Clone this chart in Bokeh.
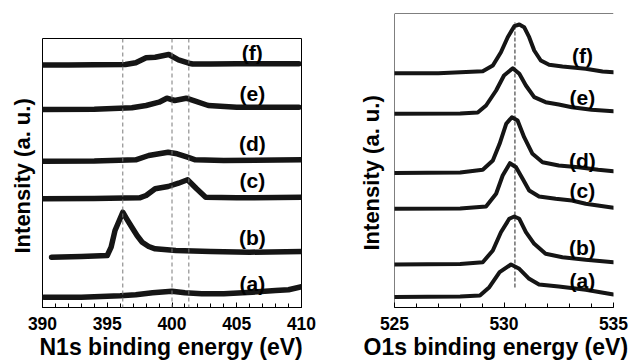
from bokeh.plotting import figure
from bokeh.layouts import row
from bokeh.models import FixedTicker, Span, Title, Range1d
from bokeh.core.properties import value
from bokeh.embed import file_html
from bokeh.resources import INLINE

FONT = "Liberation Sans"

# ---------------- N1s panel data (binding energy eV, intensity a.u.) ----------------
n1s_ticks = [390, 395, 400, 405, 410]
n1s_minor = list(range(390, 411))
n1s_refs = [396.2, 400.0, 401.3]

n1s_a_e = [390.1, 393, 396, 397.2, 398.5, 400, 401, 402.3, 404, 406.2, 408, 409, 410.1]
n1s_a_i = [10.3, 10.3, 11.7, 12.7, 14.7, 16.3, 14.7, 13.7, 13.7, 15.3, 17, 17.7, 21]

n1s_b_e = [390.7, 393, 395.0, 395.3, 395.6, 396.2, 396.5, 396.9, 397.3, 397.7, 398.2, 398.7, 400.3, 403, 406, 410.2]
n1s_b_i = [50.3, 51, 52, 60.3, 77, 95.3, 88.7, 80.3, 72, 65.3, 61, 58.7, 57, 56, 55.3, 56]

n1s_c_e = [389.9, 394, 397.5, 398.0, 398.7, 399.7, 400.5, 401.2, 401.9, 402.6, 405, 410.2]
n1s_c_i = [108.7, 109, 109.7, 112, 118.7, 121, 124.3, 127.7, 118.7, 110.3, 109.7, 110.3]

n1s_d_e = [390.0, 394, 397.2, 398.2, 399.0, 399.7, 400.4, 401.2, 401.8, 404, 410.2]
n1s_d_i = [146.3, 146.5, 147.7, 152, 153.7, 155.3, 153.7, 150.3, 147.7, 147, 147.7]

n1s_e_e = [389.9, 394, 396.9, 398, 399, 399.6, 400.2, 401.1, 401.8, 402.8, 405, 409.8]
n1s_e_i = [198, 198.3, 199.7, 202, 205.3, 209.3, 207, 209.3, 206.3, 202, 200.3, 200.3]

n1s_f_e = [389.9, 392.0, 394.0, 396.4, 397.2, 398.0, 398.7, 399.75, 400.5, 401.3, 401.6, 403.0, 405.0, 407.0, 409.8]
n1s_f_i = [242.5, 242.5, 242.7, 243.0, 244.7, 249.7, 250.3, 253.0, 247.7, 244.3, 243.5, 243.5, 243.7, 243.7, 243.7]

n1s_labels = ["(a)", "(b)", "(c)", "(d)", "(e)", "(f)"]
n1s_label_x = [406.2] * 6
n1s_label_y = [23.7, 70.3, 127, 163.7, 213.7, 255.3]

# ---------------- O1s panel data ----------------
o1s_ticks = [525, 530, 535]
o1s_minor = list(range(525, 536))
o1s_ref = 530.5
o1s_ref_span = [20, 285]

o1s_a_e = [525, 528.0, 528.9, 529.33, 529.8, 530.32, 530.7, 531.15, 531.6, 532.5, 533.73, 535.0]
o1s_a_i = [10.5, 11, 12, 20.3, 35.3, 43, 38.7, 28.7, 23, 21, 17.7, 13]

o1s_b_e = [525, 528, 529.03, 529.49, 529.86, 530.24, 530.47, 530.7, 531.0, 531.38, 531.9, 532.67, 533.73, 535.0]
o1s_b_i = [43, 43.5, 45.3, 57, 75.3, 88.7, 91, 88.7, 75.3, 63.7, 53.7, 50.3, 47.7, 45.3]

o1s_c_e = [525, 528, 529.18, 529.64, 529.94, 530.27, 530.55, 530.85, 531.15, 531.6, 532.36, 533.1, 533.73, 535.0]
o1s_c_i = [98.7, 99, 101, 113.7, 132, 144.3, 140.3, 128.7, 117, 111, 108.7, 107, 103.7, 99.7]

o1s_d_e = [525, 528, 529.03, 529.49, 529.8, 530.1, 530.36, 530.62, 530.92, 531.3, 531.76, 532.5, 533.4, 534.3, 535.0]
o1s_d_i = [134.5, 135, 137.7, 147, 163.7, 183.7, 190.3, 187, 170.3, 153.7, 145.3, 142, 140.3, 137.7, 136.3]

o1s_e_e = [525, 528, 528.8, 529.18, 529.64, 530.0, 530.4, 530.7, 531.0, 531.38, 531.9, 532.5, 533.1, 534.0, 535.0]
o1s_e_i = [193.7, 194, 195, 202, 217, 232, 239.3, 233.7, 222, 210.3, 205.3, 203, 200.3, 197.7, 196.3]

o1s_f_e = [525, 527, 529.03, 529.49, 529.86, 530.17, 530.47, 530.7, 530.92, 531.15, 531.38, 531.68, 532.06, 532.67, 533.73, 534.5, 535.0]
o1s_f_i = [234.3, 234.3, 236.3, 242, 255.3, 270.3, 281.3, 283, 280.3, 270.3, 257, 247, 242.7, 241, 238.7, 236, 235.3]

o1s_labels = ["(a)", "(b)", "(c)", "(d)", "(e)", "(f)"]
o1s_label_x = [533.58] * 6
o1s_label_y = [27, 60, 117, 147, 210.3, 252]

INK = "#151515"
TITLE_SIZE = "23px"


def style_common(p, ticks, minor):
    p.background_fill_color = "white"
    p.border_fill_color = "white"
    p.xgrid.visible = False
    p.ygrid.visible = False
    xa = p.xaxis[0]
    xa.ticker = FixedTicker(ticks=ticks, minor_ticks=minor)
    xa.major_tick_in = 5
    xa.major_tick_out = 0
    xa.minor_tick_in = 4
    xa.minor_tick_out = 0
    xa.major_tick_line_color = "black"
    xa.minor_tick_line_color = "black"
    xa.axis_line_color = "black"
    xa.major_label_text_font = FONT
    xa.major_label_text_font_style = "bold"
    xa.major_label_text_font_size = "17.5px"
    xa.major_label_text_color = "black"
    xa.major_label_standoff = 9
    # no ticks or labels on the intensity axis: hide it, the frame edge is drawn separately
    p.yaxis.visible = False


def add_titles(p, xtitle, xoff, yoff, ystand):
    p.add_layout(Title(text=xtitle, align="left", offset=xoff,
                       text_font=FONT, text_font_size=TITLE_SIZE, text_font_style="bold",
                       text_color="black", standoff=-2), "below")
    p.add_layout(Title(text="Intensity (a. u.)", align="left", offset=yoff,
                       text_font=FONT, text_font_size="22px", text_font_style="bold",
                       text_color="black", standoff=ystand), "left")


# ---------------- left figure ----------------
p1 = figure(width=346, height=364, x_range=Range1d(390, 410), y_range=Range1d(0, 269),
            output_backend="svg", toolbar_location=None, frame_align=False,
            min_border_left=42, min_border_right=45, min_border_top=38, min_border_bottom=57)
style_common(p1, n1s_ticks, n1s_minor)
p1.outline_line_color = "black"
p1.outline_line_width = 1
add_titles(p1, "N1s binding energy (eV)", -3, 54, 14.5)

for loc in n1s_refs:
    p1.add_layout(Span(location=loc, dimension="height", line_color="#7a7a7a",
                       line_width=1, line_dash="4 3"))

for e, i in [(n1s_a_e, n1s_a_i), (n1s_b_e, n1s_b_i), (n1s_c_e, n1s_c_i),
             (n1s_d_e, n1s_d_i), (n1s_e_e, n1s_e_i), (n1s_f_e, n1s_f_i)]:
    p1.line(e, i, line_color=INK, line_width=5.5, line_join="round", line_cap="round")

p1.text(x=n1s_label_x, y=n1s_label_y, text=n1s_labels, text_align="center",
        text_baseline="middle", text_font=value(FONT), text_font_style="bold",
        text_font_size="21px", text_color="black")

# ---------------- right figure ----------------
p2 = figure(width=284, height=364, x_range=Range1d(525, 535), y_range=Range1d(0, 294),
            output_backend="svg", toolbar_location=None, frame_align=False,
            min_border_left=47, min_border_right=17, min_border_top=13, min_border_bottom=57)
style_common(p2, o1s_ticks, o1s_minor)
p2.outline_line_color = None
p2.add_layout(Span(location=p2.y_range.end, dimension="width",
                   line_color="black", line_width=1))
p2.add_layout(Span(location=p2.x_range.start, dimension="height",
                   line_color="black", line_width=1))
add_titles(p2, "O1s binding energy (eV)", -31, 57, 21)

p2.segment(x0=[o1s_ref], y0=[o1s_ref_span[0]], x1=[o1s_ref], y1=[o1s_ref_span[1]],
           line_color="#222222", line_width=1, line_dash="4 2")

for e, i in [(o1s_a_e, o1s_a_i), (o1s_b_e, o1s_b_i), (o1s_c_e, o1s_c_i),
             (o1s_d_e, o1s_d_i), (o1s_e_e, o1s_e_i), (o1s_f_e, o1s_f_i)]:
    p2.line(e, i, line_color=INK, line_width=4, line_join="round", line_cap="round")

p2.text(x=o1s_label_x, y=o1s_label_y, text=o1s_labels, text_align="center",
        text_baseline="middle", text_font=value(FONT), text_font_style="bold",
        text_font_size="21px", text_color="black")

layout = row(p1, p2)
open("out.html", "w").write(file_html(layout, INLINE))
